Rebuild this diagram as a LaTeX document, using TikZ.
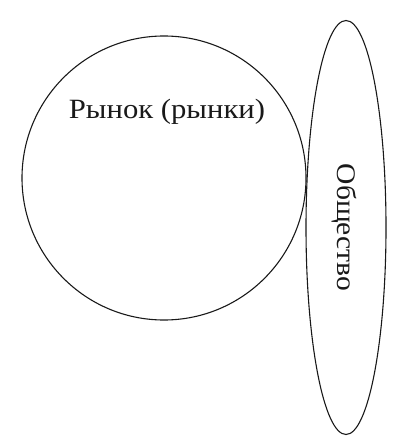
\documentclass[tikz,border=0pt]{standalone}
\usepackage{fontspec}
\setmainfont{Liberation Serif}[FakeStretch=1.1]
\usetikzlibrary{shapes.geometric}
\begin{document}
\begin{tikzpicture}[x=1bp,y=-1bp,
  outline/.style={draw=black!90, line width=1.1pt, inner sep=0pt},
  labeltext/.style={font=\fontsize{28}{32}\selectfont, inner sep=0pt, text=black!90}]
\useasboundingbox (0,0) rectangle (400,443);
\node[outline, circle, minimum size=284bp] (market) at (164,178) {};
\node[outline, ellipse, minimum width=80bp, minimum height=414bp] (society) at (346,227.5) {};
\node[labeltext, anchor=base] (marketlabel) at (167,119) {Рынок (рынки)};
\node[labeltext, anchor=base, rotate=-90, font=\fontsize{27}{31}\selectfont] (societylabel) at (337,227.5) {Общество};
\end{tikzpicture}
\end{document}
